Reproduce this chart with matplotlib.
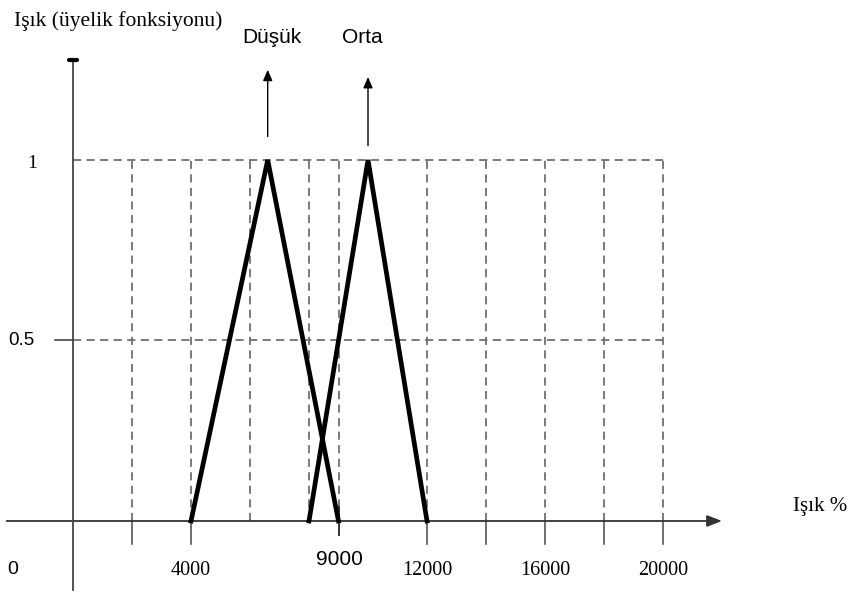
import matplotlib
matplotlib.use("Agg")
import matplotlib.pyplot as plt

# Membership functions (light level, membership)
low_x = [4000, 6600, 9000]
low_y = [0, 1, 0]
mid_x = [8000, 10000, 12000]
mid_y = [0, 1, 0]

grid_x = [2000, 4000, 6000, 8000, 9000, 12000, 14000, 16000, 18000, 20000]
grid_y = [0.5, 1.0]
x_tick_labels = {4000: "4000", 12000: "12000", 16000: "16000", 20000: "20000"}

SERIF = ["Liberation Serif", "DejaVu Serif"]
SANS = ["Liberation Sans", "DejaVu Sans"]

fig = plt.figure(figsize=(8.62, 5.92), dpi=100)
ax = fig.add_axes([0, 0, 1, 1])
ax.set_xlim(-2475, 26746)
ax.set_ylim(-0.1967, 1.4432)
ax.axis("off")

grid_kw = dict(color="#707070", lw=1.3, ls=(0, (4.5, 3)), zorder=1)

# vertical guide lines, with ticks below the axis
for gx in grid_x:
    ax.plot([gx, gx], [0, 1.0], **grid_kw)
    if gx in (2000, 4000, 12000, 14000, 16000, 18000, 20000):
        ax.plot([gx, gx], [0, -0.064], color="#555555", lw=1.2, zorder=1)
ax.plot([9000, 9000], [0.04, -0.04], color="#222222", lw=1.3, zorder=3)

# horizontal guide lines
for gy in grid_y:
    ax.plot([0, 20000], [gy, gy], **grid_kw)
ax.plot([-600, 0], [0.5, 0.5], color="#444444", lw=1.2, zorder=2)

# axes
ax.annotate("", xy=(22000, 0), xytext=(-2250, 0),
            arrowprops=dict(arrowstyle="-|>,head_length=0.9,head_width=0.35",
                            color="#333333", lw=1.3, shrinkA=0, shrinkB=0), zorder=2)
ax.plot([0, 0], [-0.19, 1.275], color="#444444", lw=1.3, zorder=2)
ax.plot([-140, 140], [1.277, 1.277], color="black", lw=3.0, solid_capstyle="round", zorder=3)

# membership triangles
ax.plot(low_x, low_y, color="black", lw=3.4, zorder=4, solid_joinstyle="miter")
ax.plot(mid_x, mid_y, color="black", lw=3.4, zorder=4, solid_joinstyle="miter")

# up arrows above each peak
for px, y0, y1 in [(low_x[1], 1.065, 1.25), (mid_x[1], 1.04, 1.23)]:
    ax.annotate("", xy=(px, y1), xytext=(px, y0),
                arrowprops=dict(arrowstyle="-|>,head_length=0.65,head_width=0.28",
                                color="black", lw=1.0, shrinkA=0, shrinkB=0))
ax.text(6746, 1.339, "Düşük", family=SANS, fontsize=15, ha="center", va="center")
ax.text(9797, 1.339, "Orta", family=SANS, fontsize=15, ha="center", va="center")

ax.text(-1990, 1.386, "Işık (üyelik fonksiyonu)", family=SERIF, fontsize=15.5,
        ha="left", va="center")
ax.text(25330, 0.04, "Işık %", family=SERIF, fontsize=15, ha="center", va="center")

ax.text(-1390, 0.99, "1", family=SERIF, fontsize=14, ha="center", va="center")
ax.text(-1750, 0.5, "0.5", family=SANS, fontsize=13.5, ha="center", va="center")
ax.text(-2030, -0.135, "0", family=SANS, fontsize=14, ha="center", va="center")
for v, s in x_tick_labels.items():
    ax.text(v, -0.1385, s, family=SERIF, fontsize=14.5, ha="center", va="center")
ax.text(9030, -0.108, "9000", family=SANS, fontsize=15, ha="center", va="center")

fig.savefig("out.png", dpi=100)
